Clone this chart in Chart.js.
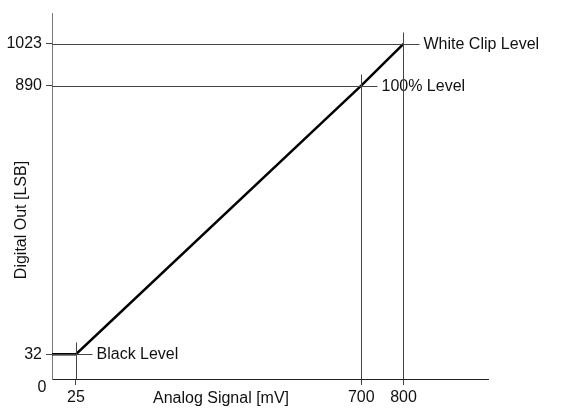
<!DOCTYPE html>
<html>
<head>
<meta charset="utf-8">
<script src="https://cdn.jsdelivr.net/npm/chart.js@4/dist/chart.umd.min.js"></script>
<style>
  html, body { margin: 0; padding: 0; background: #fff; }
  #wrap { width: 578px; height: 411px; position: relative; }
</style>
</head>
<body>
<div id="wrap"><canvas id="chart"></canvas></div>
<script>
// transfer curve (mV -> LSB)
const signalMv = [0, 25, 700, 800];
const digitalOut = [32, 32, 890, 1023];

// marked levels
const levelMv = [25, 700, 800];
const levelLsb = [32, 890, 1023];
const levelNames = ["Black Level", "100% Level", "White Clip Level"];

const xTicks = [25, 700, 800];
const yTicks = [32, 890, 1023];

const FONT = "'Liberation Sans', Arial, sans-serif";

// linear scale with the first segment (below the black level) stretched,
// the way the drawing was made
class StretchedScale extends Chart.LinearScale {
  static id = "stretched";
  static defaults = Chart.LinearScale.defaults;
  toDecimal(v) {
    const b = this.options.breakAt, f = this.options.breakFrac;
    if (v <= b) return f * (v - this.min) / (b - this.min);
    return f + (1 - f) * (v - b) / (this.max - b);
  }
  getPixelForValue(v) {
    return this.getPixelForDecimal(this.toDecimal(v));
  }
  getValueForPixel(px) {
    const d = this.getDecimalForPixel(px);
    const b = this.options.breakAt, f = this.options.breakFrac;
    if (d <= f) return this.min + (d / f) * (b - this.min);
    return b + ((d - f) / (1 - f)) * (this.max - b);
  }
}
Chart.register(StretchedScale);

// cross-hair guides, level names, axis titles, origin label
const guides = {
  id: "guides",
  afterDatasetsDraw(chart) {
    const { ctx, chartArea, scales } = chart;
    const ext = 16, up = 12;
    ctx.save();
    ctx.strokeStyle = "#444";
    ctx.lineWidth = 1;
    ctx.fillStyle = "#111";
    ctx.font = "16px " + FONT;
    ctx.textBaseline = "middle";
    for (let i = 0; i < levelMv.length; i++) {
      const px = Math.round(scales.x.getPixelForValue(levelMv[i])) + 0.5;
      const py = Math.round(scales.y.getPixelForValue(levelLsb[i])) + 0.5;
      ctx.beginPath();
      ctx.moveTo(chartArea.left, py);
      ctx.lineTo(px + ext, py);
      ctx.moveTo(px, py - up);
      ctx.lineTo(px, chartArea.bottom);
      ctx.stroke();
      ctx.textAlign = "left";
      ctx.fillText(levelNames[i], px + ext + 4, py);
    }
    ctx.textAlign = "center";
    ctx.fillText("Analog Signal [mV]", 221, 399);
    ctx.fillText("0", chartArea.left - 10, chartArea.bottom + 9);
    ctx.translate(22, 220);
    ctx.rotate(-Math.PI / 2);
    ctx.fillText("Digital Out [LSB]", 0, 0);
    ctx.restore();
  }
};

new Chart(document.getElementById("chart"), {
  type: "line",
  data: {
    datasets: [{
      data: signalMv.map((x, i) => ({ x, y: digitalOut[i] })),
      borderColor: "#000",
      borderWidth: 2.5,
      pointRadius: 0,
      tension: 0
    }]
  },
  options: {
    responsive: true,
    maintainAspectRatio: false,
    animation: false,
    layout: { padding: { top: 10, right: 90, left: 0, bottom: 0 } },
    plugins: { legend: { display: false }, tooltip: { enabled: false } },
    scales: {
      x: {
        type: "stretched",
        min: 0, max: 1000,
        breakAt: 25, breakFrac: 0.055,
        afterBuildTicks: (s) => { s.ticks = xTicks.map(v => ({ value: v })); },
        afterFit: (s) => { s.height = 32; },
        grid: { drawOnChartArea: false, tickLength: 6, color: "#444" },
        border: { color: "#222", width: 1 },
        ticks: { color: "#111", font: { family: FONT, size: 16 }, padding: 3, maxRotation: 0,
                 callback: (v) => String(v) }
      },
      y: {
        type: "stretched",
        min: 0, max: 1120,
        breakAt: 32, breakFrac: 0.068,
        afterBuildTicks: (s) => { s.ticks = yTicks.map(v => ({ value: v })); },
        afterFit: (s) => { s.width = 52; },
        grid: { drawOnChartArea: false, tickLength: 6, color: "#444" },
        border: { color: "#777", width: 1 },
        ticks: { color: "#111", font: { family: FONT, size: 16 }, padding: 4,
                 callback: (v) => String(v) }
      }
    }
  },
  plugins: [guides]
});
</script>
</body>
</html>
